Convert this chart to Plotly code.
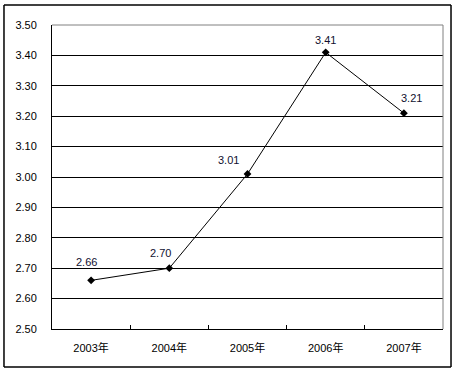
import plotly.graph_objects as go

years = ["2003年", "2004年", "2005年", "2006年", "2007年"]
values = [2.66, 2.70, 3.01, 3.41, 3.21]
labels = ["2.66", "2.70", "3.01", "3.41", "3.21"]
y_ticks = [2.5, 2.6, 2.7, 2.8, 2.9, 3.0, 3.1, 3.2, 3.3, 3.4, 3.5]
y_ticktext = ["%.2f" % v for v in y_ticks]

label_shift = [(-5, 18), (-9, 15), (-19, 14), (0, 12), (8, 15)]

FONT = "Arial, 'Liberation Sans', 'Noto Sans CJK SC', sans-serif"

fig = go.Figure()
fig.add_trace(go.Scatter(
    x=years, y=values, mode="lines+markers",
    line=dict(color="black", width=1),
    marker=dict(symbol="diamond", size=6, color="black"),
    hoverinfo="skip", showlegend=False,
))

for yr, v, t, (dx, dy) in zip(years, values, labels, label_shift):
    fig.add_annotation(x=yr, y=v, text=t, showarrow=False,
                       xshift=dx, yshift=dy,
                       font=dict(family=FONT, size=11, color="#101030"))

bx0, bx1, by0, by1 = -0.1228, 1.0205, -0.125, 1.0658
border = dict(color="black", width=1.5)

fig.update_layout(
    width=457, height=373,
    margin=dict(l=52, r=14, t=25, b=44),
    paper_bgcolor="white", plot_bgcolor="white",
    font=dict(family=FONT, size=11, color="black"),
    xaxis=dict(type="category", range=[-0.5, 4.5],
               showline=True, linecolor="black", linewidth=1,
               ticks="inside", ticklen=4, tickcolor="black",
               tickson="boundaries", showgrid=False, ticklabelstandoff=9,
               tickfont=dict(family=FONT, size=11, color="black")),
    yaxis=dict(range=[2.5, 3.5], tickvals=y_ticks, ticktext=y_ticktext,
               showline=True, linecolor="black", linewidth=1,
               showgrid=True, gridcolor="black", gridwidth=1,
               ticks="", zeroline=False, ticklabelstandoff=12,
               tickfont=dict(family=FONT, size=11, color="black")),
    shapes=[
        dict(type="line", xref="paper", yref="paper", x0=0, x1=1, y0=1, y1=1,
             line=dict(color="#808080", width=1), layer="above"),
        dict(type="line", xref="paper", yref="paper", x0=1, x1=1, y0=0, y1=1,
             line=dict(color="#808080", width=1), layer="above"),
        dict(type="line", xref="paper", yref="paper", x0=bx0, x1=bx1, y0=by0, y1=by0, line=border),
        dict(type="line", xref="paper", yref="paper", x0=bx0, x1=bx1, y0=by1, y1=by1, line=border),
        dict(type="line", xref="paper", yref="paper", x0=bx0, x1=bx0, y0=by0, y1=by1, line=border),
        dict(type="line", xref="paper", yref="paper", x0=bx1, x1=bx1, y0=by0, y1=by1, line=border),
    ],
)

fig.write_html("out.html", config={"displayModeBar": False},
               post_script="document.body.style.margin='0';document.body.style.padding='0';")
